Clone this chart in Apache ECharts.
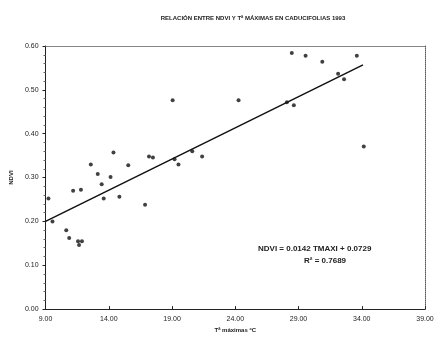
<!DOCTYPE html>
<html>
<head>
<meta charset="utf-8">
<script src="https://cdn.jsdelivr.net/npm/echarts@6/dist/echarts.min.js"></script>
<style>
  html, body { margin: 0; padding: 0; background: #fff; }
  #chart { width: 437px; height: 338px; }
</style>
</head>
<body>
<div id="chart"></div>
<script>
// Tª máxima (ºC) vs NDVI
const tmax = [9.23, 9.55, 10.64, 10.87, 11.57, 11.88, 11.65, 11.18, 11.80, 12.58,
  13.13, 13.44, 14.14, 14.37, 13.60, 14.84, 15.54, 16.87, 17.18, 17.49,
  19.05, 19.20, 19.51, 20.60, 21.38, 24.26, 28.08, 28.63, 28.47, 29.56,
  30.88, 32.13, 32.60, 33.61, 34.16]
const ndvi = [0.252, 0.200, 0.180, 0.162, 0.155, 0.155, 0.146, 0.270, 0.272, 0.330,
  0.308, 0.285, 0.301, 0.357, 0.252, 0.256, 0.328, 0.238, 0.348, 0.346,
  0.476, 0.342, 0.330, 0.360, 0.348, 0.476, 0.472, 0.465, 0.584, 0.578,
  0.564, 0.537, 0.524, 0.578, 0.371]
// ends of the fitted line as drawn
const trendX = [9.0, 34.1]
const trendY = [0.200, 0.557]

const titleText = 'RELACIÓN ENTRE NDVI Y Tª MÁXIMAS EN CADUCIFOLIAS 1993'
const eqText = 'NDVI = 0.0142 TMAXI + 0.0729'
const r2Text = 'R² = 0.7689'

let points = tmax.map((t, i) => [t, ndvi[i]])
let trend = trendX.map((t, i) => [t, trendY[i]])

let myChart = echarts.init(document.getElementById('chart'))
let ink = '#222'
let option = {
  backgroundColor: '#fff',
  animation: false,
  textStyle: { fontFamily: 'Liberation Sans, Arial, sans-serif' },
  title: {
    text: titleText,
    left: 248,
    top: 10,
    textAlign: 'center',
    textStyle: { fontSize: 6, fontWeight: 'bold', color: ink }
  },
  grid: { left: 40, right: 12, top: 46, bottom: 25 },
  xAxis: [{
    type: 'value',
    min: 9, max: 39, interval: 5,
    name: 'Tª máximas ºC',
    nameLocation: 'middle',
    nameGap: 14,
    nameTextStyle: { fontSize: 6, fontWeight: 'bold', color: ink },
    axisLine: { lineStyle: { color: ink, width: 1 } },
    axisTick: { inside: true, length: 3, lineStyle: { color: ink } },
    axisLabel: { fontSize: 7, color: ink, margin: 6, formatter: v => v.toFixed(2) },
    splitLine: { show: false }
  }, {
    type: 'value',
    position: 'top',
    min: 9, max: 39,
    axisLine: { show: true, onZero: false, lineStyle: { color: '#777', type: 'dotted' } },
    axisTick: { show: false },
    axisLabel: { show: false },
    splitLine: { show: false }
  }],
  yAxis: [{
    type: 'value',
    min: 0, max: 0.6, interval: 0.1,
    name: 'NDVI',
    nameLocation: 'middle',
    nameGap: 26,
    nameTextStyle: { fontSize: 6, fontWeight: 'bold', color: ink },
    axisLine: { show: true, lineStyle: { color: ink, width: 1 } },
    axisTick: { show: true, length: 3, lineStyle: { color: ink } },
    minorTick: { show: true, splitNumber: 5, length: 2, lineStyle: { color: '#666' } },
    axisLabel: { fontSize: 7, color: ink, margin: 7, formatter: v => v.toFixed(2) },
    splitLine: { show: false }
  }, {
    type: 'value',
    position: 'right',
    min: 0, max: 0.6,
    axisLine: { show: true, onZero: false, lineStyle: { color: '#555', type: 'dotted' } },
    axisTick: { show: false },
    axisLabel: { show: false },
    splitLine: { show: false }
  }],
  series: [
    {
      name: 'NDVI',
      type: 'scatter',
      data: points,
      symbol: 'circle',
      symbolSize: 4,
      itemStyle: { color: '#111' }
    },
    {
      name: 'ajuste',
      type: 'line',
      data: trend,
      symbol: 'none',
      lineStyle: { color: '#111', width: 1.5 },
      z: 1
    }
  ],
  graphic: [
    {
      type: 'text', left: 258, top: 245,
      style: { text: eqText, fontSize: 8, fontWeight: 'bold', fill: ink, fontFamily: 'Liberation Sans, Arial, sans-serif' }
    },
    {
      type: 'text', left: 304, top: 257,
      style: { text: r2Text, fontSize: 8, fontWeight: 'bold', fill: ink, fontFamily: 'Liberation Sans, Arial, sans-serif' }
    }
  ]
}
myChart.setOption(option, true)
</script>
</body>
</html>
